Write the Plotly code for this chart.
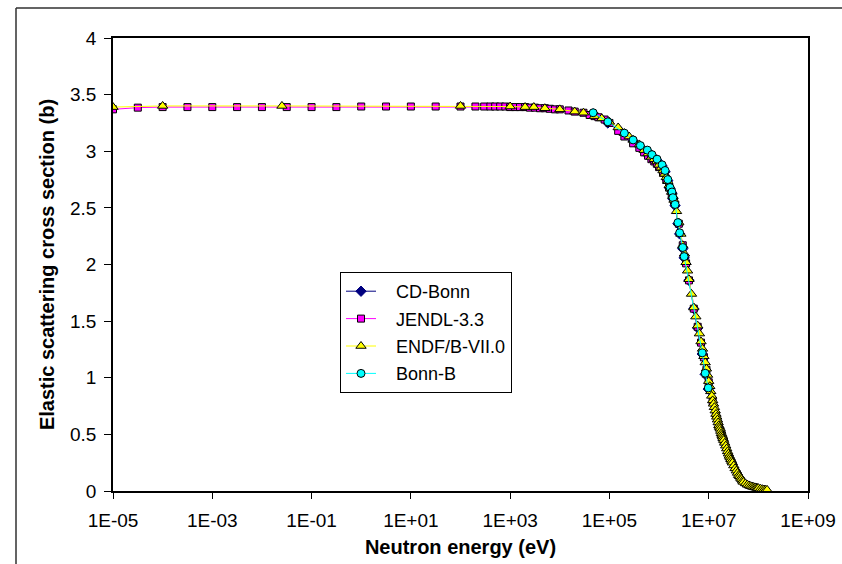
import plotly.graph_objects as go

# ---------------- data ----------------
x_tick_values = [1e-5, 1e-3, 1e-1, 1e1, 1e3, 1e5, 1e7, 1e9]
x_tick_labels = ["1E-05", "1E-03", "1E-01", "1E+01", "1E+03", "1E+05", "1E+07", "1E+09"]
y_tick_values = [0, 0.5, 1, 1.5, 2, 2.5, 3, 3.5, 4]
y_tick_labels = ["0", "0.5", "1", "1.5", "2", "2.5", "3", "3.5", "4"]
series_names = ["CD-Bonn", "JENDL-3.3", "ENDF/B-VII.0", "Bonn-B"]

cd_bonn_energy = [4.7e4, 9.3e4, 2.0e5, 3.0e5, 4.2e5, 5.8e5, 7.2e5, 9.1e5, 1.15e6, 1.32e6,
                  1.5e6, 1.66e6, 1.82e6, 1.9e6, 2.1e6, 2.4e6, 2.6e6, 3.0e6, 3.2e6,
                  4.0e6, 5.0e6, 6.0e6, 7.4e6, 8.5e6, 9.8e6]
cd_bonn_sigma = [3.33, 3.25, 3.15, 3.09, 3.04, 3.00, 2.96, 2.92, 2.87, 2.82,
                 2.74, 2.67, 2.63, 2.58, 2.52, 2.36, 2.27, 2.14, 2.06,
                 1.86, 1.61, 1.44, 1.21, 1.03, 0.90]

jendl_energy = [1e-5, 3.16e-5, 1e-4, 3.16e-4, 1e-3, 3.16e-3, 1e-2, 3.16e-2, 1e-1, 3.16e-1,
                1, 3.16, 10, 31.6, 100, 200, 300, 400, 500, 630, 800, 1000, 1260, 1580,
                2000, 2500, 3160, 4000, 5000, 6300, 8000, 1e4, 1.5e4, 2e4, 3e4, 4e4, 5e4,
                6e4, 8e4, 1e5, 1.5e5, 2e5, 3e5, 4e5, 5e5, 6e5, 7e5, 8e5, 9e5, 1e6, 1.2e6,
                1.4e6, 1.6e6, 1.8e6, 2e6, 2.5e6, 3e6, 3.5e6, 4e6, 5e6, 6e6, 7e6, 8e6, 9e6,
                1e7, 1.2e7, 1.4e7, 1.6e7, 1.8e7, 2e7]
jendl_sigma = [3.37, 3.385, 3.39, 3.39, 3.39, 3.39, 3.39, 3.39, 3.39, 3.39,
               3.395, 3.395, 3.395, 3.395, 3.395, 3.395, 3.395, 3.395, 3.395, 3.395, 3.395, 3.39, 3.39, 3.39,
               3.39, 3.385, 3.385, 3.38, 3.38, 3.375, 3.37, 3.37, 3.36, 3.35, 3.34, 3.32, 3.31,
               3.30, 3.28, 3.25, 3.18, 3.13, 3.07, 3.03, 2.99, 2.96, 2.93, 2.91, 2.89, 2.86, 2.81,
               2.75, 2.68, 2.62, 2.56, 2.36, 2.17, 2.01, 1.86, 1.61, 1.45, 1.31, 1.18, 1.07,
               0.96, 0.79, 0.67, 0.57, 0.50, 0.44]

endf_energy = [1e-5, 1e-4, 0.0253, 100, 1000, 2000, 3000, 5000, 1e4, 2e4, 3e4, 5e4, 7e4,
               1e5, 1.5e5, 2e5, 2.5e5, 3e5, 4e5, 5e5, 6e5, 7e5, 8e5, 9e5,
               1e6, 1.1e6, 1.2e6, 1.3e6, 1.4e6, 1.5e6, 1.6e6, 1.7e6, 1.8e6, 1.9e6,
               2e6, 2.25e6, 2.5e6, 2.75e6, 3e6, 3.25e6, 3.5e6, 3.75e6, 4e6, 4.5e6,
               5e6, 5.5e6, 6e6, 6.5e6, 7e6, 7.5e6, 8e6, 8.5e6, 9e6, 9.5e6,
               1e7, 1.05e7, 1.1e7, 1.15e7, 1.2e7, 1.25e7, 1.3e7, 1.35e7, 1.4e7, 1.45e7,
               1.5e7, 1.55e7, 1.6e7, 1.65e7, 1.7e7, 1.75e7, 1.8e7, 1.85e7, 1.9e7, 1.95e7,
               2e7, 2.1e7, 2.2e7, 2.3e7, 2.4e7, 2.5e7, 2.6e7, 2.7e7, 2.8e7, 2.9e7,
               3e7, 3.2e7, 3.4e7, 3.6e7, 3.8e7, 4e7, 4.2e7, 4.4e7, 4.6e7, 4.8e7,
               5e7, 5.5e7, 6e7, 6.5e7, 7e7, 7.5e7, 8e7, 8.5e7, 9e7, 9.5e7,
               1e8, 1.1e8, 1.2e8, 1.3e8, 1.4e8, 1.5e8]
endf_sigma = [3.39, 3.40, 3.40, 3.40, 3.395, 3.39, 3.39, 3.38, 3.37, 3.35, 3.34, 3.31, 3.29,
              3.26, 3.21, 3.16, 3.13, 3.10, 3.06, 3.01, 2.98, 2.95, 2.93, 2.91,
              2.88, 2.855, 2.83, 2.80, 2.77, 2.735, 2.70, 2.67, 2.64, 2.605,
              2.57, 2.47, 2.37, 2.27, 2.17, 2.095, 2.02, 1.945, 1.87, 1.74,
              1.62, 1.54, 1.46, 1.39, 1.32, 1.255, 1.19, 1.135, 1.08, 1.025,
              0.97, 0.925, 0.88, 0.84, 0.80, 0.77, 0.74, 0.71, 0.68, 0.655,
              0.63, 0.605, 0.58, 0.565, 0.55, 0.53, 0.51, 0.495, 0.48, 0.465,
              0.45, 0.425, 0.40, 0.375, 0.35, 0.33, 0.31, 0.295, 0.28, 0.265,
              0.25, 0.225, 0.20, 0.18, 0.16, 0.14, 0.13, 0.115, 0.105, 0.09,
              0.08, 0.067, 0.056, 0.049, 0.043, 0.039, 0.035, 0.032, 0.03, 0.027,
              0.025, 0.02, 0.016, 0.013, 0.011, 0.01]

bonnb_energy = [4.7e4, 9.3e4, 2.0e5, 3.0e5, 4.2e5, 5.8e5, 7.2e5, 9.1e5, 1.15e6, 1.32e6,
                1.5e6, 1.66e6, 1.82e6, 1.9e6, 2.1e6, 2.4e6, 2.6e6, 3.0e6, 3.2e6,
                7.4e6, 8.5e6, 9.8e6]
bonnb_sigma = [3.34, 3.26, 3.16, 3.10, 3.05, 3.01, 2.97, 2.93, 2.88, 2.83,
               2.75, 2.68, 2.64, 2.59, 2.53, 2.37, 2.28, 2.15, 2.07,
               1.22, 1.04, 0.91]

# ---------------- figure ----------------
FONT = "Liberation Sans, Arial, sans-serif"
PAD = "\u00a0\u00a0\u00a0"  # extra room after the legend line sample

fig = go.Figure()
fig.add_trace(go.Scatter(
    x=cd_bonn_energy, y=cd_bonn_sigma, name=PAD + series_names[0], mode="lines+markers",
    legendgroup="a",
    line=dict(color="#000080", width=1),
    marker=dict(symbol="diamond", size=8, color="#000080", line=dict(color="#000080", width=1))))
fig.add_trace(go.Scatter(
    x=jendl_energy, y=jendl_sigma, name=PAD + series_names[1], mode="lines+markers",
    legendgroup="b",
    line=dict(color="#FF00FF", width=1),
    marker=dict(symbol="square", size=7, color="#FF00FF", line=dict(color="#000000", width=1))))
fig.add_trace(go.Scatter(
    x=endf_energy, y=endf_sigma, name=PAD + series_names[2], mode="lines+markers",
    legendgroup="c",
    line=dict(color="#FFFF00", width=1),
    marker=dict(symbol="triangle-up", size=9, color="#FFFF00", line=dict(color="#000000", width=1))))
fig.add_trace(go.Scatter(
    x=bonnb_energy, y=bonnb_sigma, name=PAD + series_names[3], mode="lines+markers",
    legendgroup="d",
    line=dict(color="#00FFFF", width=1),
    marker=dict(symbol="circle", size=8, color="#00FFFF", line=dict(color="#000000", width=1))))

fig.update_xaxes(
    type="log", range=[-5, 9], automargin=False,
    tickvals=x_tick_values, ticktext=x_tick_labels,
    ticks="outside", ticklen=6, tickcolor="black", tickwidth=1,
    ticklabelstandoff=5,
    showline=True, linecolor="black", linewidth=1.5, mirror=True,
    showgrid=False, zeroline=False,
    tickfont=dict(family=FONT, size=19, color="black"),
    title=dict(text="Neutron energy (eV)", standoff=10,
               font=dict(family=FONT, size=20, color="black", weight="bold")))
fig.update_yaxes(
    range=[0, 4], automargin=False,
    tickvals=y_tick_values, ticktext=y_tick_labels,
    ticks="outside", ticklen=7, tickcolor="black", tickwidth=1,
    ticklabelstandoff=4,
    showline=True, linecolor="black", linewidth=1.5, mirror=True,
    showgrid=False, zeroline=False,
    tickfont=dict(family=FONT, size=19, color="black"),
    title=dict(text="Elastic scattering cross section (b)", standoff=10,
               font=dict(family=FONT, size=20, color="black", weight="bold")))

W, H = 842, 564
L, R, T, B = 113, 34, 38, 73
pw, ph = W - L - R, H - T - B

def px(xp):
    return (xp - L) / pw

def py(yp):
    return (H - B - yp) / ph

# outer chart-area border (top and left edges visible)
fig.add_shape(type="line", xref="paper", yref="paper",
              x0=px(16), x1=px(845), y0=py(8), y1=py(8),
              line=dict(color="#303030", width=1.5))
fig.add_shape(type="line", xref="paper", yref="paper",
              x0=px(16), x1=px(16), y0=py(8), y1=py(570),
              line=dict(color="#303030", width=1.5))

fig.update_layout(
    width=W, height=H,
    margin=dict(l=L, r=R, t=T, b=B, autoexpand=False),
    paper_bgcolor="white", plot_bgcolor="white",
    showlegend=True,
    legend=dict(
        x=px(340), y=py(272), xanchor="left", yanchor="top",
        bgcolor="white", bordercolor="black", borderwidth=1,
        font=dict(family=FONT, size=18, color="black"),
        traceorder="grouped", tracegroupgap=1,
        itemsizing="trace"),
)

fig.write_html("out.html")
